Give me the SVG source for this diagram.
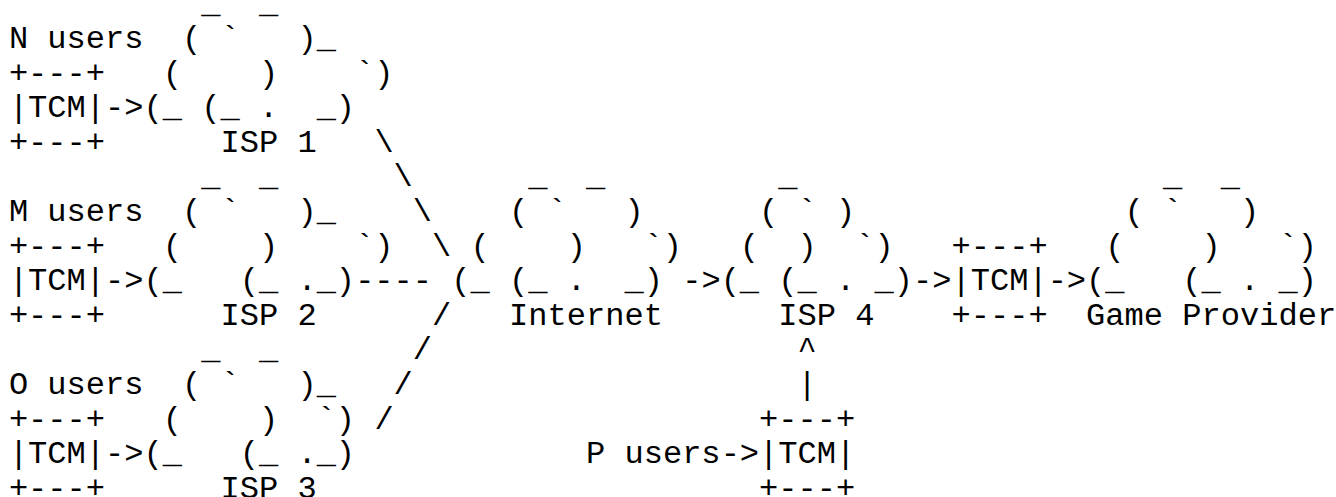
<svg xmlns="http://www.w3.org/2000/svg" width="1336" height="497" viewBox="0 0 1336 497" xml:space="preserve">
<style>
text { font-family: "Liberation Mono", "DejaVu Sans Mono", monospace; font-size: 32.06px; fill: #000; white-space: pre; }
</style>
<rect x="0" y="0" width="1336" height="497" fill="#fff"/>
<g id="users-n"><text x="8.9" y="48">N users</text></g>
<g id="tcm-n"><text><tspan x="8.9" y="82.6">+---+</tspan><tspan x="8.9" y="117.2">|TCM|</tspan><tspan x="8.9" y="151.8">+---+</tspan></text></g>
<g id="isp1"><text><tspan x="201.26" y="13.4">_  _</tspan><tspan x="182.02" y="48">( `   )_</tspan><tspan x="162.79" y="82.6">(    )    `)</tspan><tspan x="143.55" y="117.2">(_ (_ .  _)</tspan><tspan x="220.5" y="151.8">ISP 1</tspan></text></g>
<g id="users-m"><text x="8.9" y="221">M users</text></g>
<g id="tcm-m"><text><tspan x="8.9" y="255.6">+---+</tspan><tspan x="8.9" y="290.2">|TCM|</tspan><tspan x="8.9" y="324.8">+---+</tspan></text></g>
<g id="isp2"><text><tspan x="201.26" y="186.4">_  _</tspan><tspan x="182.02" y="221">( `   )_</tspan><tspan x="162.79" y="255.6">(    )    `)</tspan><tspan x="143.55" y="290.2">(_   (_ ._)</tspan><tspan x="220.5" y="324.8">ISP 2</tspan></text></g>
<g id="users-o"><text x="8.9" y="394">O users</text></g>
<g id="tcm-o"><text><tspan x="8.9" y="428.6">+---+</tspan><tspan x="8.9" y="463.2">|TCM|</tspan><tspan x="8.9" y="497.8">+---+</tspan></text></g>
<g id="isp3"><text><tspan x="201.26" y="359.4">_  _</tspan><tspan x="182.02" y="394">( `   )_</tspan><tspan x="162.79" y="428.6">(    )  `)</tspan><tspan x="143.55" y="463.2">(_   (_ ._)</tspan><tspan x="220.5" y="497.8">ISP 3</tspan></text></g>
<g id="internet"><text><tspan x="528.27" y="186.4">_  _</tspan><tspan x="509.04" y="221">( `   )</tspan><tspan x="470.56" y="255.6">(    )   `)</tspan><tspan x="451.33" y="290.2">(_ (_ .  _)</tspan><tspan x="509.04" y="324.8">Internet</tspan></text></g>
<g id="isp4"><text><tspan x="778.34" y="186.4">_</tspan><tspan x="759.1" y="221">( ` )</tspan><tspan x="739.87" y="255.6">(  )  `)</tspan><tspan x="720.63" y="290.2">(_ (_ . _)</tspan><tspan x="778.34" y="324.8">ISP 4</tspan></text></g>
<g id="tcm-gw"><text><tspan x="951.46" y="255.6">+---+</tspan><tspan x="951.46" y="290.2">|TCM|</tspan><tspan x="951.46" y="324.8">+---+</tspan></text></g>
<g id="game-provider"><text><tspan x="1163.06" y="186.4">_  _</tspan><tspan x="1124.59" y="221">( `   )</tspan><tspan x="1105.35" y="255.6">(    )   `)</tspan><tspan x="1086.12" y="290.2">(_   (_ . _)</tspan><tspan x="1086.12" y="324.8">Game Provider</tspan></text></g>
<g id="users-p"><text x="585.98" y="463.2">P users</text></g>
<g id="tcm-p"><text><tspan x="759.1" y="428.6">+---+</tspan><tspan x="759.1" y="463.2">|TCM|</tspan><tspan x="759.1" y="497.8">+---+</tspan></text></g>
<g id="connectors">
<text x="105.08" y="117.2">-&gt;</text>
<text x="105.08" y="290.2">-&gt;</text>
<text x="105.08" y="463.2">-&gt;</text>
<text x="374.38" y="151.8">\</text>
<text x="393.62" y="186.4">\</text>
<text x="412.86" y="221">\</text>
<text x="432.09" y="255.6">\</text>
<text x="355.15" y="290.2">----</text>
<text x="432.09" y="324.8">/</text>
<text x="412.86" y="359.4">/</text>
<text x="393.62" y="394">/</text>
<text x="374.38" y="428.6">/</text>
<text x="682.16" y="290.2">-&gt;</text>
<text x="912.99" y="290.2">-&gt;</text>
<text x="1047.64" y="290.2">-&gt;</text>
<text x="720.63" y="463.2">-&gt;</text>
<text x="797.58" y="359.4">^</text>
<text x="797.58" y="394">|</text>
</g>
</svg>
